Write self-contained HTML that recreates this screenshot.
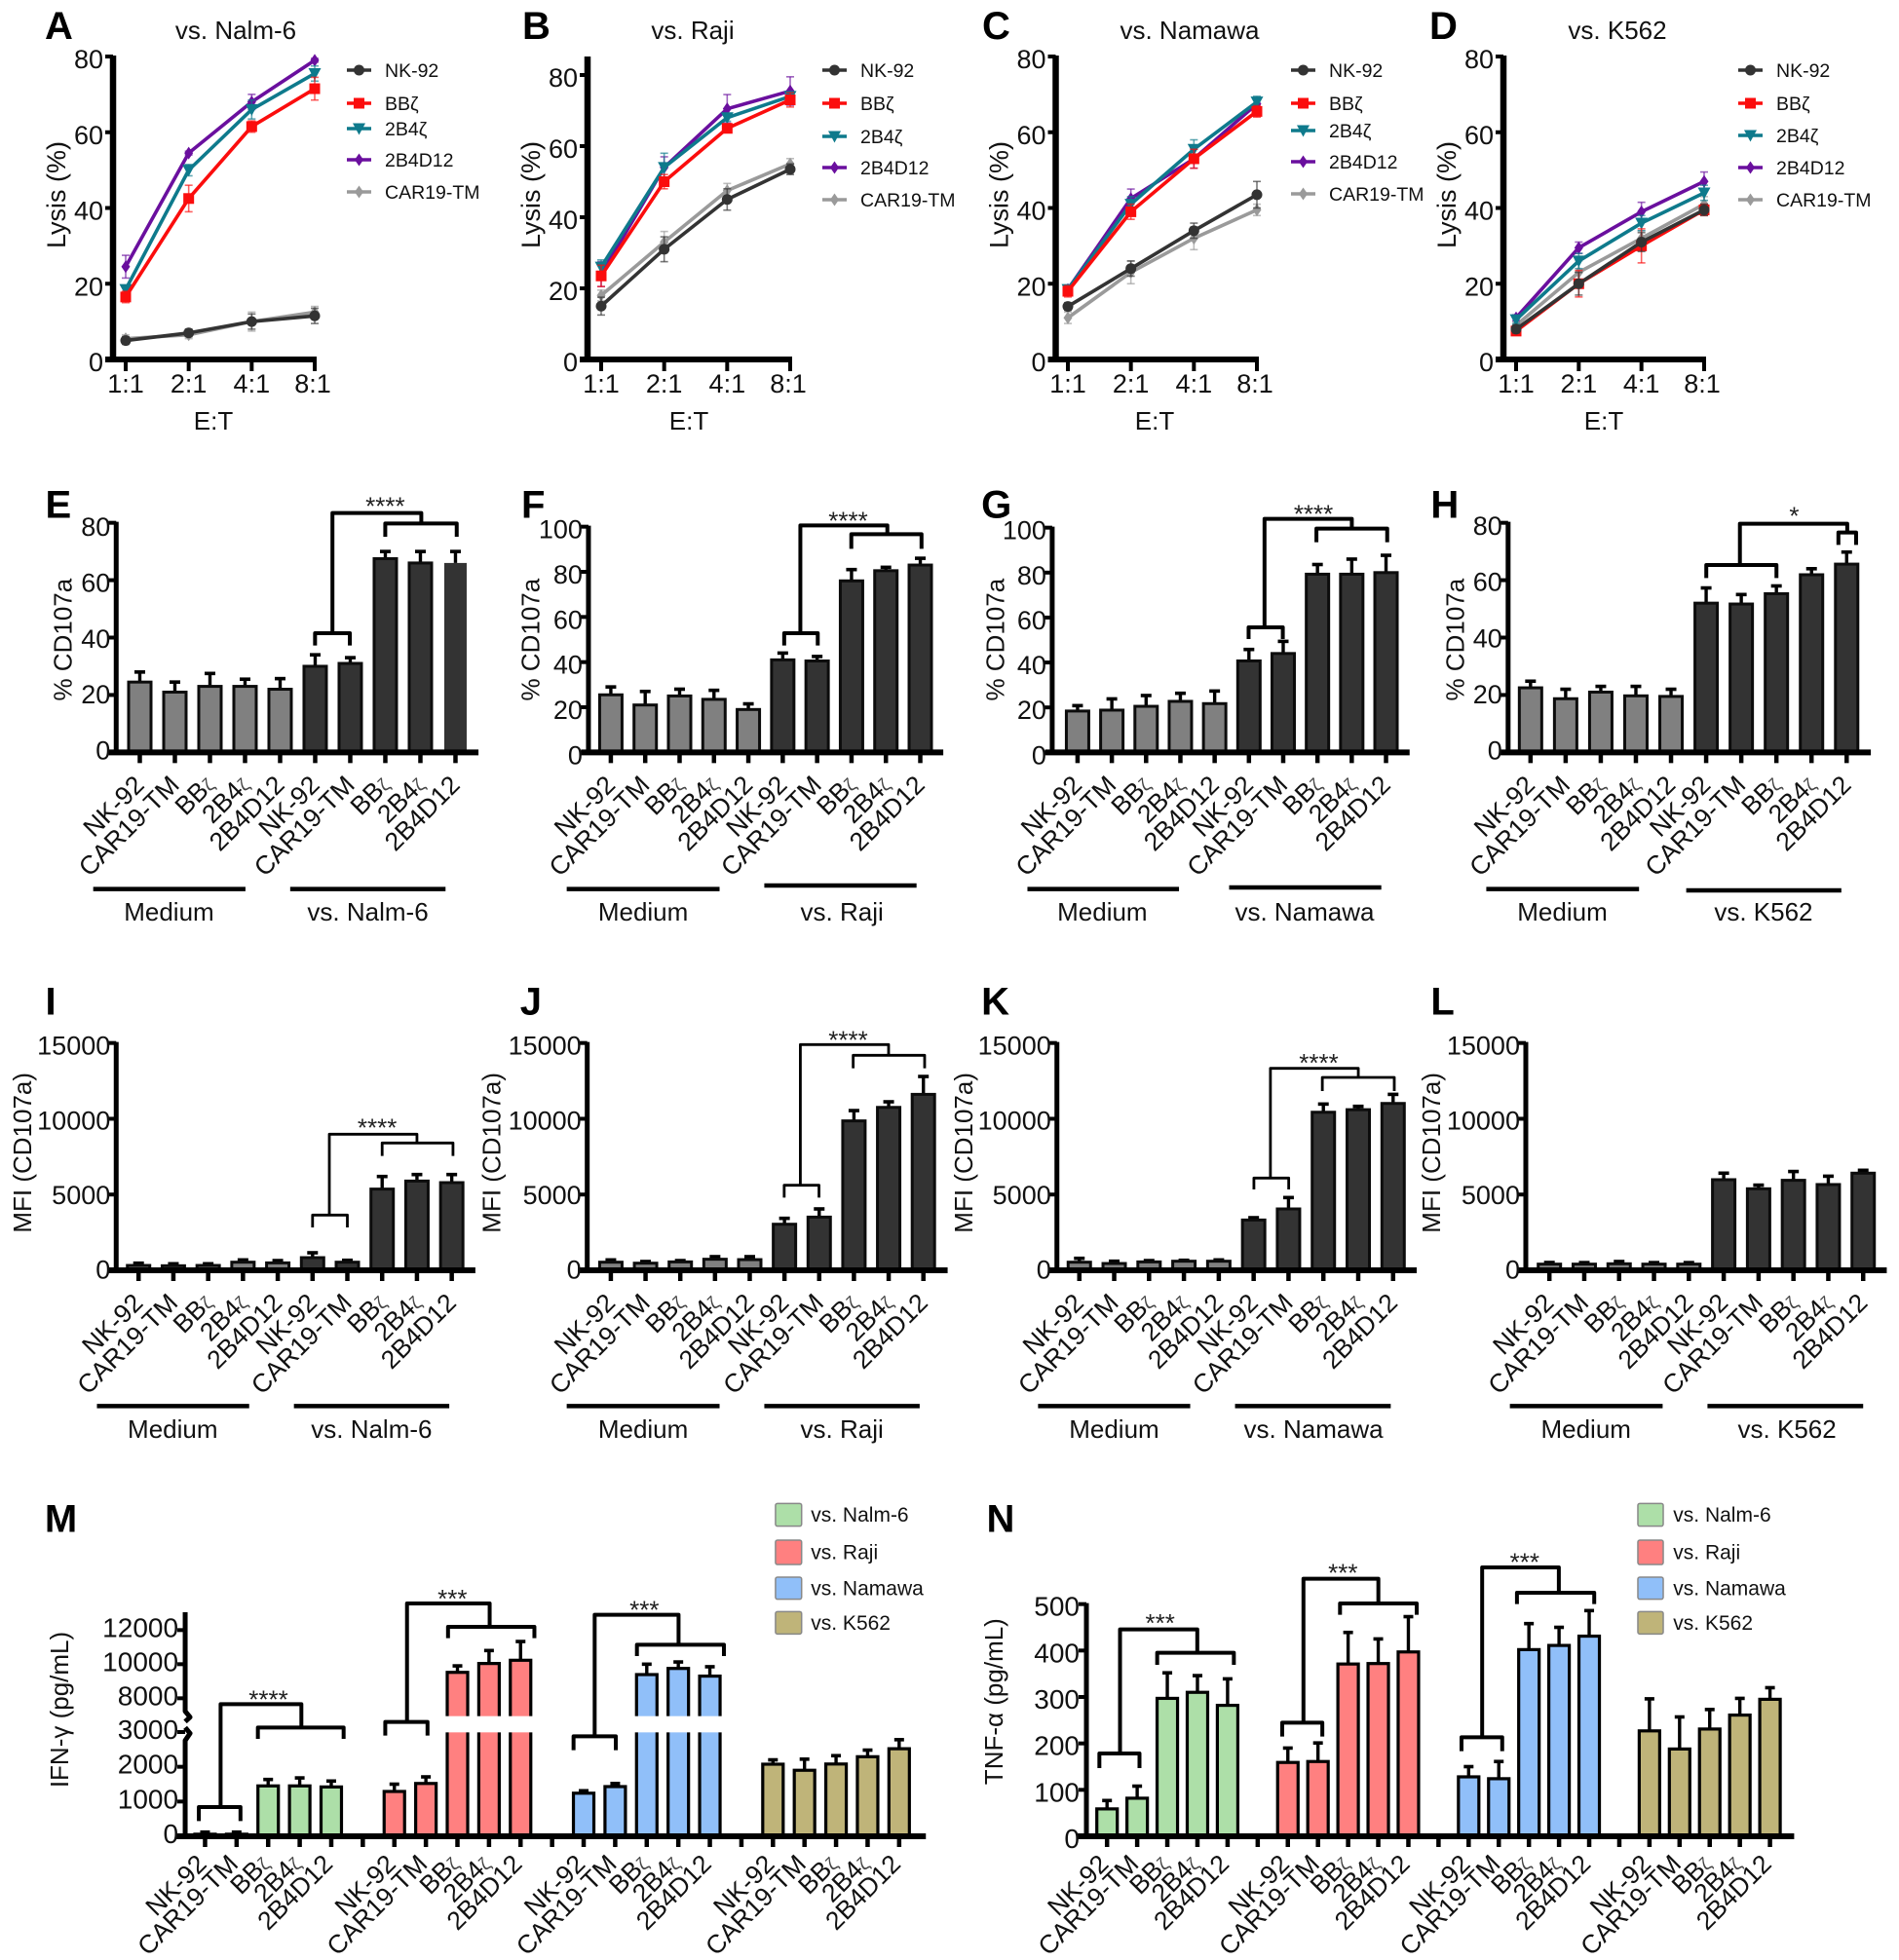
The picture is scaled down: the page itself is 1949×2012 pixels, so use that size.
<!DOCTYPE html>
<html lang="en">
<head>
<meta charset="utf-8">
<title>CAR-NK cytotoxicity, CD107a and cytokine panels</title>
<style>
html,body{margin:0;padding:0;background:#fff;width:1949px;height:2012px;overflow:hidden}
svg{display:block;font-family:"Liberation Sans",Arial,sans-serif}
</style>
</head>
<body>
<svg id="fig" xmlns="http://www.w3.org/2000/svg" width="1949" height="2012" viewBox="0 0 1949 2012"></svg>
<script>
/* ---------- shared labels ---------- */
const ratios = ['1:1','2:1','4:1','8:1'];
const constructs = ['NK-92','CAR19-TM','BBζ','2B4ζ','2B4D12'];
const lysisTicks = [0,20,40,60,80];
const cd107Ticks80 = [0,20,40,60,80];
const cd107Ticks100 = [0,20,40,60,80,100];
const mfiTicks = [0,5000,10000,15000];
const ifnTicks = [0,1000,2000,3000,8000,10000,12000];
const tnfTicks = [0,100,200,300,400,500];
const targets = ['vs. Nalm-6','vs. Raji','vs. Namawa','vs. K562'];

/* ---------- A-D lysis values ---------- */
const lysisA_NK = [5,7,10,11.5];
const lysisA_BB = [16.5,42.5,61.5,71.5];
const lysisA_2B4 = [18.5,50,66,75.5];
const lysisA_D12 = [24.5,54.5,68,79];
const lysisA_CAR = [5.5,6.5,10,12.5];
const errA_NK = [1,1,2,2];
const errA_BB = [1.5,3.5,1.5,3];
const errA_2B4 = [1,1.5,2.5,2];
const errA_D12 = [3,0.5,2,0.5];
const errA_CAR = [1,1,2.5,1.5];

const lysisB_NK = [15,31,45,53.5];
const lysisB_BB = [23.5,50,65,73];
const lysisB_2B4 = [26,54,68,74];
const lysisB_D12 = [24,54,70.5,75.5];
const lysisB_CAR = [18,33,47.5,55];
const errB_NK = [2.5,3.5,3,1.5];
const errB_BB = [3,2,1,2];
const errB_2B4 = [2,4,1,1];
const errB_D12 = [3.5,3,4,4];
const errB_CAR = [1.5,3,2,1.5];

const lysisC_NK = [14,24,34,43.5];
const lysisC_BB = [18,39,53,65.5];
const lysisC_2B4 = [18.5,41,55.5,68];
const lysisC_D12 = [18.5,42.5,53,67.5];
const lysisC_CAR = [11,23,32,39.5];
const errC_NK = [1,2,2,3.5];
const errC_BB = [1.5,2,2.5,1.5];
const errC_2B4 = [1,2,2.5,1.5];
const errC_D12 = [1,2.5,2.5,1.5];
const errC_CAR = [1.5,3,3,1.5];

const lysisD_NK = [8,20,31,39.5];
const lysisD_BB = [7.5,20,30,39.5];
const lysisD_2B4 = [10.5,26,36,44];
const lysisD_D12 = [11,29.5,39,47];
const lysisD_CAR = [9,23,32,41];
const errD_NK = [1,3,2.5,1.5];
const errD_BB = [1,3.5,4.5,1.5];
const errD_2B4 = [1,2,2,2];
const errD_D12 = [0.8,1.5,2.5,2.5];
const errD_CAR = [1,3,2,2];

/* ---------- E-H % CD107a ---------- */
const cd107E = [24.5,21,23,23,22,30,31,67.5,66,66];
const cd107ErrE = [3.5,3.5,4.5,2.5,3.7,4,2,2.5,4,4];
const cd107F = [25.5,21,25,23.5,19,41,40.5,76,80.5,83];
const cd107ErrF = [3.5,6,3,4,2.5,3,2,5,1.5,3];
const cd107G = [18.4,18.8,20.5,22.7,21.7,40.7,44,79.3,79.3,80];
const cd107ErrG = [2.4,5,4.8,3.6,5.6,5.1,5.4,4.3,6.7,7.7];
const cd107H = [22.5,18.7,21,19.7,19.5,52,51.7,55.3,61.9,65.6];
const cd107ErrH = [2.3,3.3,2,3.3,2.5,5.3,3.3,2.7,2.1,4.2];

/* ---------- I-L MFI ---------- */
const mfiI = [320,300,320,535,490,835,535,5360,5890,5785];
const mfiErrI = [150,130,110,150,150,322,125,830,430,535];
const mfiJ = [535,470,555,730,705,3040,3510,9860,10750,11610];
const mfiErrJ = [150,110,85,170,195,390,540,680,370,1180];
const mfiK = [535,450,555,600,600,3320,4050,10430,10600,11010];
const mfiErrK = [255,150,85,60,85,150,750,540,220,600];
const mfiL = [407,407,430,407,407,5980,5380,5940,5660,6410];
const mfiErrL = [108,100,150,100,100,430,240,580,550,190];

/* ---------- M IFN-gamma, N TNF-alpha ---------- */
const ifnNalm = [60,60,1450,1450,1420];
const ifnNalmErr = [60,60,185,230,170];
const ifnRaji = [1290,1520,9520,10040,10230];
const ifnRajiErr = [210,190,380,760,1100];
const ifnNamawa = [1240,1430,9390,9750,9300];
const ifnNamawaErr = [70,90,610,380,550];
const ifnK562 = [2075,1900,2080,2290,2520];
const ifnK562Err = [125,320,240,190,260];

const tnfNalm = [59,82,297,310,282];
const tnfNalmErr = [18,26,55,36,57];
const tnfRaji = [159,161,371,372,397];
const tnfRajiErr = [31,40,68,53,76];
const tnfNamawa = [128,124,402,411,431];
const tnfNamawaErr = [22,37,56,39,55];
const tnfK562 = [227,188,231,261,295];
const tnfK562Err = [69,69,42,36,25];

/* ---------- drawing helpers ---------- */
const NS = 'http://www.w3.org/2000/svg';
const fig = document.getElementById('fig');
function group(parent, name){
  const el = document.createElementNS(NS,'g');
  
  
  parent.appendChild(el);
  return el;
}
function line(parent, name, x1, y1, x2, y2, sw, color, cap){
  const el = document.createElementNS(NS,'line');
  
  
  el.setAttribute('x1',x1);el.setAttribute('y1',y1);el.setAttribute('x2',x2);el.setAttribute('y2',y2);
  el.setAttribute('stroke',color||'#000');el.setAttribute('stroke-width',sw);
  el.setAttribute('stroke-linecap',cap||'butt');
  parent.appendChild(el);
  return el;
}
function rect(parent, name, x, y, w, h, fill, stroke, sw){
  const el = document.createElementNS(NS,'rect');
  
  
  el.setAttribute('x',x);el.setAttribute('y',y);el.setAttribute('width',w);el.setAttribute('height',Math.max(0,h));
  el.setAttribute('fill',fill);
  if(stroke){el.setAttribute('stroke',stroke);el.setAttribute('stroke-width',sw);}
  parent.appendChild(el);
  return el;
}
function text(parent, name, str, x, y, size, opts){
  opts = opts || {};
  const el = document.createElementNS(NS,'text');
  
  
  el.setAttribute('x',x);el.setAttribute('y',y);
  el.setAttribute('font-size',size);
  el.setAttribute('fill',opts.fill||'#111');
  el.setAttribute('text-anchor',opts.anchor||'start');
  if(opts.bold) el.setAttribute('font-weight','bold');
  if(opts.rotate!==undefined) el.setAttribute('transform','rotate('+opts.rotate+' '+x+' '+y+')');
  const zi = str.indexOf('ζ');
  if(zi>=0 && opts.smallZeta){
    el.appendChild(document.createTextNode(str.slice(0,zi)));
    const t = document.createElementNS(NS,'tspan');
    t.setAttribute('font-size',size*0.72);
    t.setAttribute('fill','#444');
    t.textContent = 'ζ';
    el.appendChild(t);
  } else {
    el.textContent = str;
  }
  parent.appendChild(el);
  return el;
}
function marker(parent, name, kind, x, y, color){
  let el;
  const r = 5.5;
  if(kind==='circle'){
    el = document.createElementNS(NS,'circle');
    el.setAttribute('cx',x);el.setAttribute('cy',y);el.setAttribute('r',r);
  } else if(kind==='square'){
    el = document.createElementNS(NS,'rect');
    el.setAttribute('x',x-r);el.setAttribute('y',y-r);el.setAttribute('width',2*r);el.setAttribute('height',2*r);
  } else {
    const pts = kind==='down' ? [[x-r-1,y-r],[x+r+1,y-r],[x,y+r+1]] : [[x,y-r-1],[x+r-1,y],[x,y+r+1],[x-r+1,y]];
    el = document.createElementNS(NS,'polygon');
    el.setAttribute('points',pts.map(p=>p.join(',')).join(' '));
  }
  
  
  el.setAttribute('fill',color);
  parent.appendChild(el);
  return el;
}
function polyline(parent, name, pts, sw, color){
  const el = document.createElementNS(NS,'polyline');
  
  
  el.setAttribute('points',pts.map(p=>p.join(',')).join(' '));
  el.setAttribute('fill','none');
  el.setAttribute('stroke',color);
  el.setAttribute('stroke-width',sw);
  el.setAttribute('stroke-linejoin','round');
  parent.appendChild(el);
  return el;
}
const leftCol = z => z/1.568;
const rightCol = z => 1000 + z/1.652;

function yAxisTitle(g, str, x, y, size){
  text(g,'y-axis-title',str,x,y,size||26,{anchor:'middle',rotate:-90});
}

/* ---------- line charts A-D ---------- */
const seriesStyle = [
  {key:'CAR',label:'CAR19-TM',color:'#9a9a9a',mark:'diamond',order:4},
  {key:'D12',label:'2B4D12',color:'#6a0f9e',mark:'diamond',order:3},
  {key:'2B4',label:'2B4ζ',color:'#0e7a8c',mark:'down',order:2},
  {key:'BB',label:'BBζ',color:'#fb0d0d',mark:'square',order:1},
  {key:'NK',label:'NK-92',color:'#333333',mark:'circle',order:0}
];
function lineChart(p){
  const g = group(fig,'panel-'+p.id.toLowerCase());
  text(g,'panel-letter',p.id,p.letterX,40,40,{bold:true,fill:'#000'});
  text(g,'chart-title',p.title,p.titleX,40,26,{anchor:'middle'});
  const xOf = i => p.x0 + i*(p.x1-p.x0)/(ratios.length-1);
  const yOf = v => p.base - v*(p.base-p.y80)/80;
  yAxisTitle(g,'Lysis (%)',p.axisX-49,200,27);
  line(g,'y-axis',p.axisX,p.base+3,p.axisX,p.top,6.5);
  line(g,'x-axis',p.axisX-8,p.base,p.x1+2,p.base,6);
  lysisTicks.forEach(t=>{
    line(g,'y-tick',p.axisX-8,yOf(t),p.axisX,yOf(t),4);
    text(g,'y-tick-label',String(t),p.axisX-10,yOf(t)+12,27,{anchor:'end'});
  });
  ratios.forEach((r,i)=>{
    line(g,'x-tick',xOf(i),p.base,xOf(i),p.base+12,4);
    text(g,'x-tick-label',r,xOf(i)-(i===3?2:0),403,27,{anchor:'middle'});
  });
  text(g,'x-axis-title','E:T',p.etX,441,26,{anchor:'middle'});
  seriesStyle.forEach(s=>{
    const sg = group(g,'series-'+s.key.toLowerCase());
    const vals = p.data[s.key], errs = p.err[s.key];
    vals.forEach((v,i)=>{
      const eb = line(sg,'error-bar',xOf(i),yOf(v-errs[i]),xOf(i),yOf(v+errs[i]),1.6,s.color);
      eb.setAttribute('opacity','0.65');
      const c1 = line(sg,'error-cap',xOf(i)-4,yOf(v+errs[i]),xOf(i)+4,yOf(v+errs[i]),1.6,s.color);
      c1.setAttribute('opacity','0.65');
      const c2 = line(sg,'error-cap',xOf(i)-4,yOf(v-errs[i]),xOf(i)+4,yOf(v-errs[i]),1.6,s.color);
      c2.setAttribute('opacity','0.65');
    });
    polyline(sg,'series-line',vals.map((v,i)=>[xOf(i),yOf(v)]),3.6,s.color);
    vals.forEach((v,i)=>marker(sg,'data-point',s.mark,xOf(i),yOf(v),s.color));
  });
  const lg = group(g,'legend');
  seriesStyle.forEach(s=>{
    const ly = p.legendY[s.order];
    const eg = group(lg,'legend-entry');
    line(eg,'legend-line',p.legX,ly,p.legX+25,ly,3.6,s.color);
    marker(eg,'legend-marker',s.mark,p.legX+12.5,ly,s.color);
    text(eg,'legend-label',s.label,p.legX+39,ly+7,19.5);
  });
}
lineChart({id:'A',letterX:46,title:'vs. Nalm-6',titleX:242,etX:219,axisX:116,x0:129,x1:323,base:369,y80:58,top:57,legX:356,legendY:[72,106,132,164,197],
  data:{NK:lysisA_NK,BB:lysisA_BB,'2B4':lysisA_2B4,D12:lysisA_D12,CAR:lysisA_CAR},err:{NK:errA_NK,BB:errA_BB,'2B4':errA_2B4,D12:errA_D12,CAR:errA_CAR}});
lineChart({id:'B',letterX:536,title:'vs. Raji',titleX:711,etX:707,axisX:603,x0:617,x1:811,base:369,y80:77,top:58,legX:844,legendY:[72,106,140,172,205],
  data:{NK:lysisB_NK,BB:lysisB_BB,'2B4':lysisB_2B4,D12:lysisB_D12,CAR:lysisB_CAR},err:{NK:errB_NK,BB:errB_BB,'2B4':errB_2B4,D12:errB_D12,CAR:errB_CAR}});
lineChart({id:'C',letterX:1008,title:'vs. Namawa',titleX:1221,etX:1185,axisX:1083.5,x0:1096,x1:1290,base:369,y80:58,top:57,legX:1325,legendY:[72,106,134,166,199],
  data:{NK:lysisC_NK,BB:lysisC_BB,'2B4':lysisC_2B4,D12:lysisC_D12,CAR:lysisC_CAR},err:{NK:errC_NK,BB:errC_BB,'2B4':errC_2B4,D12:errC_D12,CAR:errC_CAR}});
lineChart({id:'D',letterX:1467,title:'vs. K562',titleX:1660,etX:1646,axisX:1543,x0:1556,x1:1749,base:369,y80:58,top:57,legX:1784,legendY:[72,106,139,172,205],
  data:{NK:lysisD_NK,BB:lysisD_BB,'2B4':lysisD_2B4,D12:lysisD_D12,CAR:lysisD_CAR},err:{NK:errD_NK,BB:errD_BB,'2B4':errD_2B4,D12:errD_D12,CAR:errD_CAR}});

/* ---------- brackets ---------- */
function brackets(parent, b, X, Y, sw){
  const g = group(parent,'significance-bracket');
  polyline(g,'bracket-top',[[X(b.left),Y(b.low[2])],[X(b.left),Y(b.top)],[X(b.conn),Y(b.top)],[X(b.conn),Y(b.high[2])]],sw,'#000');
  polyline(g,'bracket-low',[[X(b.low[0]),Y(b.low[3])],[X(b.low[0]),Y(b.low[2])],[X(b.low[1]),Y(b.low[2])],[X(b.low[1]),Y(b.low[3])]],sw,'#000');
  polyline(g,'bracket-high',[[X(b.high[0]),Y(b.high[3])],[X(b.high[0]),Y(b.high[2])],[X(b.high[1]),Y(b.high[2])],[X(b.high[1]),Y(b.high[3])]],sw,'#000');
  text(g,'significance-stars',b.stars,X(b.sx),Y(b.sy)+15,26,{anchor:'middle',fill:'#222'});
}

/* ---------- bar charts E-L ---------- */
function barChart(p){
  const X = p.col==='L' ? leftCol : rightCol;
  const Y = z => p.off + z/3;
  const g = group(fig,'panel-'+p.id.toLowerCase());
  text(g,'panel-letter',p.id,X(p.letterZ)-2,Y(p.letterY),40,{bold:true,fill:'#000'});
  const cx = i => X(p.first + i*(p.last-p.first)/(p.values.length-1));
  const base = Y(p.base), topPx = Y(p.topZ);
  const yOf = v => base - v/p.max*(base-topPx);
  const bw = 23;
  yAxisTitle(g,p.yTitle,X(p.titleZ),Y(p.titleY),26);
  p.values.forEach((v,i)=>{
    const bg = group(g,'bar-group');
    const e = p.errs[i];
    line(bg,'error-bar',cx(i),yOf(v),cx(i),yOf(v+e),3.4);
    line(bg,'error-cap',cx(i)-5.5,yOf(v+e),cx(i)+5.5,yOf(v+e),3.6);
    const plain = p.plainLast && i===p.values.length-1;
    rect(bg,'bar',cx(i)-bw/2,yOf(v),bw,base-yOf(v),i<5?'#808080':'#333333','#0c0c0c',plain?0:3);
  });
  line(g,'y-axis',X(p.axisZ),base,X(p.axisZ),topPx-1,5);
  line(g,'x-axis',X(p.axisFrom),base,X(p.axisTo),base,6);
  p.ticks.forEach(t=>{
    line(g,'y-tick',X(p.axisZ)-8,yOf(t),X(p.axisZ),yOf(t),4);
    const off = p.labBot + (p.labTop-p.labBot)*t/p.max;
    text(g,'y-tick-label',String(t),X(p.axisZ)-6,yOf(t)+off,27,{anchor:'end'});
  });
  p.values.forEach((v,i)=>{
    const lab = constructs[i%5];
    line(g,'x-tick',cx(i),base,cx(i),base+11,4.5);
    text(g,'x-tick-label',lab,cx(i)+6,base+35,26.5,{anchor:'end',rotate:-45,smallZeta:true});
  });
  line(g,'group-line-medium',X(p.g1[0]),Y(p.g1[2]),X(p.g1[1]),Y(p.g1[2]),4.5);
  line(g,'group-line-target',X(p.g2[0]),Y(p.g2[2]),X(p.g2[1]),Y(p.g2[2]),4.5);
  text(g,'group-label-medium','Medium',X(p.g1[3]),Y(p.groupY),26,{anchor:'middle'});
  text(g,'group-label-target',p.target,X(p.g2[3]),Y(p.groupY),26,{anchor:'middle'});
  if(p.br) brackets(g,p.br,X,Y,p.brW);
}
barChart({id:'E',col:'L',off:480,letterZ:76,letterY:155,labTop:13.5,labBot:7,brW:4,values:cd107E,errs:cd107ErrE,plainLast:true,first:225,last:733,base:877,topZ:170,max:80,ticks:cd107Ticks80,axisZ:187,axisFrom:175,axisTo:770,
  yTitle:'% CD107a',titleZ:115,titleY:530,g1:[150,395,1298,272],g2:[467,717,1298,592],groupY:1395,target:targets[0],
  br:{left:535,conn:678,top:140,low:[507,563,510,548],high:[620,735,172,213],stars:'****',sx:620,sy:100}});
barChart({id:'F',col:'L',off:480,letterZ:842,letterY:155,labTop:12,labBot:12,brW:4,values:cd107F,errs:cd107ErrF,first:983,last:1481,base:877,topZ:182,max:100,ticks:cd107Ticks100,axisZ:947,axisFrom:935,axisTo:1518,
  yTitle:'% CD107a',titleZ:868,titleY:530,g1:[912,1158,1298,1035],g2:[1230,1475,1287,1355],groupY:1395,target:targets[1],
  br:{left:1288,conn:1428,top:178,low:[1262,1316,510,548],high:[1370,1483,205,250],stars:'****',sx:1365,sy:145}});
barChart({id:'G',col:'R',off:480,letterZ:15,letterY:155,labTop:12,labBot:12,brW:4,values:cd107G,errs:cd107ErrG,first:175,last:698,base:877,topZ:185,max:100,ticks:cd107Ticks100,axisZ:132,axisFrom:120,axisTo:738,
  yTitle:'% CD107a',titleZ:50,titleY:530,g1:[90,347,1298,217],g2:[432,690,1293,560],groupY:1395,target:targets[2],
  br:{left:492,conn:640,top:158,low:[465,523,492,528],high:[580,700,188,230],stars:'****',sx:575,sy:125}});
barChart({id:'H',col:'R',off:480,letterZ:777,letterY:155,labTop:12.5,labBot:7,brW:4,values:cd107H,errs:cd107ErrH,first:943,last:1479,base:877,topZ:170,max:80,ticks:cd107Ticks80,axisZ:905,axisFrom:890,axisTo:1520,
  yTitle:'% CD107a',titleZ:830,titleY:530,g1:[868,1127,1298,997],g2:[1207,1470,1302,1338],groupY:1395,target:targets[3],
  br:{left:1298,conn:1480,top:173,low:[1241,1360,300,340],high:[1465,1495,200,238],stars:'*',sx:1390,sy:130}});
barChart({id:'I',col:'L',off:1000,letterZ:76,letterY:125,labTop:12,labBot:8.5,brW:2.8,values:mfiI,errs:mfiErrI,first:223,last:727,base:912,topZ:212,max:15000,ticks:mfiTicks,axisZ:187,axisFrom:175,axisTo:765,
  yTitle:'MFI (CD107a)',titleZ:50,titleY:550,g1:[156,401,1330,278],g2:[473,723,1330,598],groupY:1428,target:targets[0],
  br:{left:530,conn:671,top:493,low:[503,559,742,780],high:[615,729,520,560],stars:'****',sx:607,sy:455}});
barChart({id:'J',col:'L',off:1000,letterZ:840,letterY:125,labTop:12,labBot:8.5,brW:2.8,values:mfiJ,errs:mfiErrJ,first:983,last:1486,base:912,topZ:212,max:15000,ticks:mfiTicks,axisZ:945,axisFrom:930,axisTo:1525,
  yTitle:'MFI (CD107a)',titleZ:805,titleY:550,g1:[912,1158,1330,1035],g2:[1230,1480,1330,1355],groupY:1428,target:targets[1],
  br:{left:1288,conn:1430,top:217,low:[1262,1318,650,688],high:[1373,1488,250,290],stars:'****',sx:1365,sy:185}});
barChart({id:'K',col:'R',off:1000,letterZ:15,letterY:125,labTop:12,labBot:8.5,brW:2.8,values:mfiK,errs:mfiErrK,first:178,last:710,base:912,topZ:212,max:15000,ticks:mfiTicks,axisZ:140,axisFrom:125,axisTo:750,
  yTitle:'MFI (CD107a)',titleZ:-3,titleY:550,g1:[108,366,1330,237],g2:[442,706,1330,575],groupY:1428,target:targets[2],
  br:{left:502,conn:651,top:290,low:[474,533,628,663],high:[590,712,318,360],stars:'****',sx:584,sy:255}});
barChart({id:'L',col:'R',off:1000,letterZ:777,letterY:125,labTop:12,labBot:8.5,brW:2.8,values:mfiL,errs:mfiErrL,first:975,last:1507,base:912,topZ:212,max:15000,ticks:mfiTicks,axisZ:935,axisFrom:920,axisTo:1547,
  yTitle:'MFI (CD107a)',titleZ:790,titleY:550,g1:[908,1167,1330,1037],g2:[1243,1507,1330,1378],groupY:1428,target:targets[3]});

/* ---------- cytokine charts M, N ---------- */
const groupFills = ['#addfa8','#ff8080','#90bff9','#bfb479'];
function cytokineChart(p){
  const X = p.col==='L' ? leftCol : rightCol;
  const Y = z => 1520 + z/3;
  const g = group(fig,'panel-'+p.id.toLowerCase());
  text(g,'panel-letter',p.id,X(p.letterZ)-2,Y(158),40,{bold:true,fill:'#000'});
  const step = (p.last-p.first)/22;
  const cx = (grp,i) => X(p.first + (grp*6+i)*step);
  const yOf = p.yOf;
  const base = Y(1095);
  const bw = 21;
  yAxisTitle(g,p.yTitle,X(p.titleZ),Y(p.titleY),26);
  p.series.forEach((vals,grp)=>{
    const sg = group(g,'bar-series-'+grp);
    vals.forEach((v,i)=>{
      const e = p.errs[grp][i];
      line(sg,'error-bar',cx(grp,i),yOf(v),cx(grp,i),yOf(v+e),3.4);
      line(sg,'error-cap',cx(grp,i)-5,yOf(v+e),cx(grp,i)+5,yOf(v+e),3.6);
      rect(sg,'bar',cx(grp,i)-bw/2,yOf(v),bw,base-yOf(v),groupFills[grp],'#000',3.2);
      if(p.hasBreak && v>3000){
        rect(sg,'bar-axis-break',cx(grp,i)-bw/2-3,Y(725),bw+6,Y(775)-Y(725),'#ffffff');
      }
    });
  });
  const ax = X(p.axisZ);
  if(p.hasBreak){
    polyline(g,'y-axis-upper',[[ax,Y(405)],[ax,Y(710)],[ax+5,Y(728)],[ax,Y(742)]],5,'#000');
    polyline(g,'y-axis-lower',[[ax,Y(760)],[ax+5,Y(778)],[ax,Y(800)],[ax,base]],5,'#000');
  } else {
    line(g,'y-axis',ax,base,ax,yOf(500)-1,5);
  }
  line(g,'x-axis',X(p.axisFrom),base,X(p.axisTo),base,6);
  p.ticks.forEach(t=>{
    line(g,'y-tick',ax-8,yOf(t),ax,yOf(t),4);
    text(g,'y-tick-label',String(t),ax-7,yOf(t)+p.labOff,28,{anchor:'end'});
  });
  p.series.forEach((vals,grp)=>{
    vals.forEach((v,i)=>{
      line(g,'x-tick',cx(grp,i),base,cx(grp,i),base+11,4.5);
      text(g,'x-tick-label',constructs[i],cx(grp,i)+3,base+30,26.5,{anchor:'end',rotate:-45,smallZeta:true});
    });
    if(grp<3) line(g,'x-tick-spacer',cx(grp,5),base,cx(grp,5),base+11,4.5);
  });
  p.br.forEach(b=>brackets(g,b,X,Y,4));
  const lg = group(g,'legend');
  const legY = [[70,140],[183,258],[297,365],[403,472]];
  targets.forEach((t,i)=>{
    const eg = group(lg,'legend-entry');
    const sw = rect(eg,'legend-swatch',X(p.legZ[0]),Y(legY[i][0]),X(p.legZ[1])-X(p.legZ[0]),Y(legY[i][1])-Y(legY[i][0]),groupFills[i],'#888',1.5);
    sw.setAttribute('rx','2');
    text(eg,'legend-label',t,X(p.legZ[2]),(Y(legY[i][0])+Y(legY[i][1]))/2+7,21);
  });
}
cytokineChart({id:'M',col:'L',letterZ:75,first:330,last:1447,axisZ:298,axisFrom:283,axisTo:1490,hasBreak:true,labOff:7,
  yOf:v=>1520+(v<=3000 ? 1095-v*0.107 : 670-(v-8000)*0.0525)/3,
  ticks:ifnTicks,yTitle:'IFN-γ  (pg/mL)',titleZ:110,titleY:705,legZ:[1248,1290,1305],
  series:[ifnNalm,ifnRaji,ifnNamawa,ifnK562],errs:[ifnNalmErr,ifnRajiErr,ifnNamawaErr,ifnK562Err],
  br:[{left:355,conn:485,top:688,low:[320,387,1005,1048],high:[415,553,760,795],stars:'****',sx:432,sy:655},
      {left:655,conn:788,top:378,low:[620,688,743,785],high:[721,860,450,485],stars:'***',sx:728,sy:345},
      {left:957,conn:1092,top:413,low:[923,991,787,830],high:[1025,1165,505,540],stars:'***',sx:1037,sy:380}]});
cytokineChart({id:'N',col:'R',letterZ:24,first:225,last:1349,axisZ:190,axisFrom:175,axisTo:1390,hasBreak:false,labOff:12,
  yOf:v=>1520+(1095-v*1.43)/3,
  ticks:tnfTicks,yTitle:'TNF-α  (pg/mL)',titleZ:48,titleY:680,legZ:[1125,1168,1185],
  series:[tnfNalm,tnfRaji,tnfNamawa,tnfK562],errs:[tnfNalmErr,tnfRajiErr,tnfNamawaErr,tnfK562Err],
  br:[{left:247,conn:378,top:458,low:[212,280,840,885],high:[310,440,530,567],stars:'***',sx:315,sy:420},
      {left:558,conn:685,top:302,low:[522,590,745,788],high:[620,750,378,413],stars:'***',sx:625,sy:265},
      {left:861,conn:991,top:267,low:[826,895,790,833],high:[920,1051,345,380],stars:'***',sx:933,sy:233}]});
</script>
</body>
</html>
